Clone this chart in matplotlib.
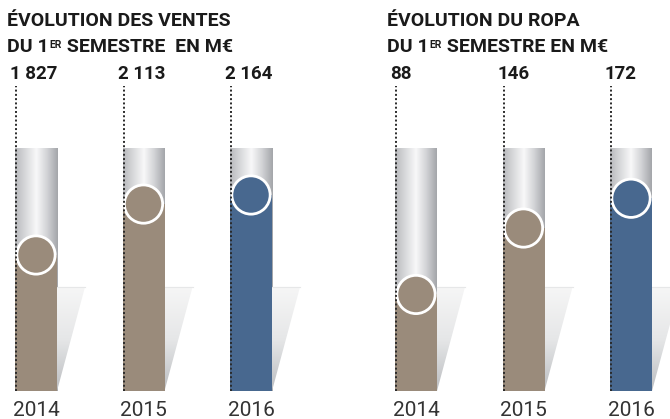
import numpy as np
import matplotlib.pyplot as plt
from matplotlib.patches import Polygon
from matplotlib.colors import LinearSegmentedColormap
from matplotlib.transforms import blended_transform_factory

# données
years = ['2014', '2015', '2016']
ventes = [1827, 2113, 2164]
ropa = [88, 146, 172]
ventes_labels = ['1 827', '2 113', '2 164']
ropa_labels = ['88', '146', '172']

BROWN = '#9a8b7b'
BLUE = '#48688f'
bar_colors = [BROWN, BROWN, BLUE]

plt.rcParams['font.family'] = ['Roboto', 'DejaVu Sans']

W, H = 670, 419
fig = plt.figure(figsize=(W / 100, H / 100), dpi=100)

px = 107.5          # pixels par catégorie
bw = 42 / px        # largeur de barre
bot_px, top_px = 391, 148

cyl_cmap = LinearSegmentedColormap.from_list(
    'cyl', ['#b9babd', '#d9dadc', '#f8f8f9', '#d2d3d6', '#a4a6aa'])
shadow_cmap = LinearSegmentedColormap.from_list(
    'sh', ['#f6f6f6', '#e6e7e8', '#bcbec1'])


def panel(x0_px, x1_px, first_px, vals, ylim, labels, title1, title2):
    ax = fig.add_axes([x0_px / W, (H - bot_px) / H,
                       (x1_px - x0_px) / W, (bot_px - top_px) / H])
    ax.set_axis_off()
    ylo, yhi = ylim
    x = np.arange(len(vals))

    # cylindres gris
    grad = np.linspace(0, 1, 100)[None, :]
    for i in x:
        ax.imshow(grad, cmap=cyl_cmap, aspect='auto', zorder=1,
                  extent=(i - bw / 2, i + bw / 2, ylo, yhi))

    # ombres
    sh_top = ylo + 0.428 * (yhi - ylo)
    vgrad = np.linspace(0, 1, 100)[:, None]
    for i in x:
        xr = i + bw / 2
        poly = Polygon([(xr, sh_top), (xr + 28 / px, sh_top), (xr, ylo)],
                       closed=True, facecolor='none', edgecolor='none')
        ax.add_patch(poly)
        im = ax.imshow(vgrad, cmap=shadow_cmap, aspect='auto', zorder=1,
                       extent=(xr, xr + 28 / px, ylo, sh_top))
        im.set_clip_path(poly)
        ax.plot([xr, xr + 28 / px], [sh_top, sh_top], color='#e6e7e8',
                lw=0.8, zorder=1)

    # barres
    ax.bar(x, np.array(vals) - ylo, bottom=ylo, width=bw,
           color=bar_colors, zorder=2)
    ax.scatter(x, vals, s=760, c=bar_colors, edgecolors='white',
               linewidths=2.0, zorder=3)

    # pointillés
    tr = blended_transform_factory(ax.transData, ax.transAxes)
    for i in x:
        ax.plot([i - bw / 2 + 1 / px] * 2, [0, (bot_px - 86) / (bot_px - top_px)],
                transform=tr, color='#2a2a2a', lw=1.4,
                linestyle=(0, (1, 1.2)), clip_on=False, zorder=4)

    ax.set_xlim(-(first_px - x0_px) / px, (x1_px - first_px) / px)
    ax.set_ylim(ylo, yhi)

    trf = blended_transform_factory(ax.transData, fig.transFigure)
    for i, lab in zip(x, labels):
        ax.text(i - bw / 2 - 5 / px, 1 - 74 / H, lab, transform=trf,
                ha='left', va='center', fontsize=13.5, fontweight='bold',
                color='#1a1a1a')
    for i, yr in zip(x, years):
        ax.text(i, 1 - 410 / H, yr, transform=trf, ha='center', va='center',
                fontsize=15, color='#333333')

    # titres
    tx = (x0_px + 7) / W
    fig.text(tx, 1 - 21 / H, title1, ha='left', va='center',
             fontsize=14, fontweight='bold', color='#1a1a1a')
    t = fig.text(tx, 1 - 47 / H, 'DU 1', ha='left', va='center',
                 fontsize=14, fontweight='bold', color='#1a1a1a')
    sup = ax.annotate('ER', xy=(1, 1), xycoords=t, xytext=(0.5, -1.5),
                      textcoords='offset points', ha='left', va='top',
                      fontsize=7.5, fontweight='bold', color='#1a1a1a')
    ax.annotate(title2, xy=(1, 0), xycoords=(sup, t), xytext=(0, 0),
                textcoords='offset points', ha='left', va='bottom',
                fontsize=14, fontweight='bold', color='#1a1a1a')
    return ax


panel(0, 335, 36, ventes, (1063, 2428), ventes_labels,
      'ÉVOLUTION DES VENTES', ' SEMESTRE  EN M€')
panel(380, 670, 416, ropa, (3.7, 215.9), ropa_labels,
      'ÉVOLUTION DU ROPA', ' SEMESTRE EN M€')

fig.savefig('out.png', dpi=100)
